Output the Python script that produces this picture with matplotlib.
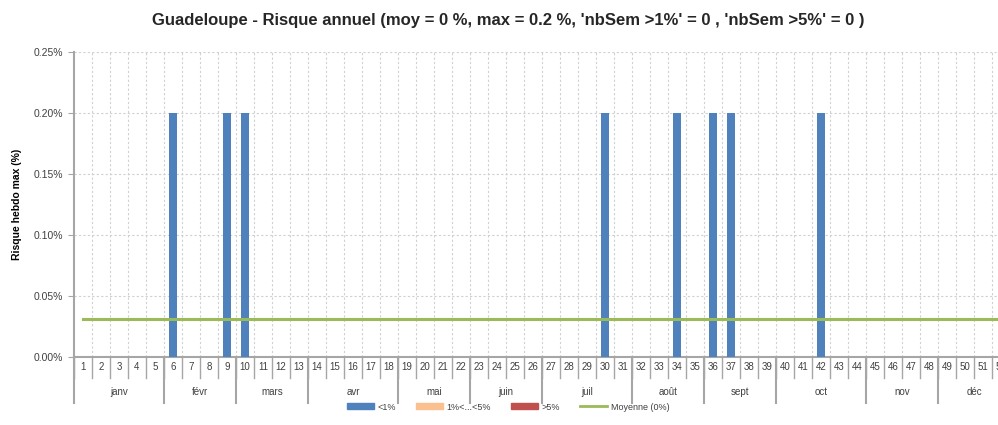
import numpy as np
import matplotlib
matplotlib.use('Agg')
import matplotlib.pyplot as plt
import matplotlib.transforms as mtrans
from matplotlib.patches import Patch
from matplotlib.lines import Line2D

plt.rcParams['font.family'] = ['Liberation Sans Narrow', 'Liberation Sans', 'DejaVu Sans']

# ── données ───────────────────────────────
weeks = np.arange(1, 53)
risk_weeks = [6, 9, 10, 30, 34, 36, 37, 42]     # semaines avec un risque > 0
risk_vals = [0.2, 0.2, 0.2, 0.2, 0.2, 0.2, 0.2, 0.2]
months = ['janv', 'févr', 'mars', 'avr', 'mai', 'juin',
          'juil', 'août', 'sept', 'oct', 'nov', 'déc']
month_nweeks = [5, 4, 4, 5, 4, 4, 5, 4, 4, 5, 4, 4]

risk = np.zeros(len(weeks))
for w, v in zip(risk_weeks, risk_vals):
    risk[w-1] = v
moy = risk.mean()

c_low, c_mid, c_high, c_moy = '#4F81BD', '#FAC090', '#C0504D', '#9BBB59'
grey = '#A6A6A6'
txt = '#404040'

# ── figure ────────────────────────────────
fig = plt.figure(figsize=(9.98, 4.25), dpi=100)
ax = fig.add_axes([74/998, 68/425, 936/998, 305/425])

low = np.where(risk < 1, risk, 0)
mid = np.where((risk >= 1) & (risk < 5), risk, 0)
high = np.where(risk >= 5, risk, 0)
ax.bar(weeks, low, width=0.4, color=c_low, zorder=3)
ax.bar(weeks, mid, width=0.4, color=c_mid, zorder=3)
ax.bar(weeks, high, width=0.4, color=c_high, zorder=3)
ax.plot(weeks, np.full(len(weeks), moy), color=c_moy, lw=2.2, zorder=4)

ax.set_xlim(0.5, 52.5)
ax.set_ylim(0, 0.25)
ax.set_yticks(np.arange(0, 0.26, 0.05))
ax.set_yticklabels([f'{v:.2f}%' for v in np.arange(0, 0.26, 0.05)],
                   fontsize=7.5, color=txt)
ax.tick_params(axis='y', length=4, color=grey, pad=4)

# grille : verticales entre semaines, horizontales tous les 0.05
for b in np.arange(1.5, 52.5, 1):
    ax.axvline(b, color='#D0D0D0', lw=0.8, ls=(0, (2, 2)), zorder=1)
ax.grid(axis='y', color='#D0D0D0', lw=0.8, ls=(0, (2, 2)), zorder=1)

for s in ['top', 'right']:
    ax.spines[s].set_visible(False)
for s in ['left', 'bottom']:
    ax.spines[s].set_color(grey)
    ax.spines[s].set_linewidth(1.5)

# axe x à deux niveaux : semaines puis mois
ax.set_xticks([])
tr = mtrans.blended_transform_factory(ax.transData, ax.transAxes)
h = 305.0
for w in weeks:
    ax.text(w, -10/h, str(w), transform=tr, ha='center', va='center',
            fontsize=7, color=txt)
for b in np.arange(0.5, 53.5, 1):
    ax.plot([b, b], [0, -21/h], transform=tr, color=grey, lw=1.0,
            clip_on=False)
start = 0.5
ax.plot([start, start], [0, -46/h], transform=tr, color=grey, lw=1.5,
        clip_on=False)
for m, n in zip(months, month_nweeks):
    ax.text(start + n/2, -35/h, m, transform=tr, ha='center', va='center',
            fontsize=7, color=txt)
    start += n
    ax.plot([start, start], [0, -46/h], transform=tr, color=grey, lw=1.5,
            clip_on=False)

ax.set_ylabel('Risque hebdo max (%)', fontsize=7.5, fontweight='bold',
              color='black', labelpad=8)

fig.text(508/998, 1 - 20/425,
         "Guadeloupe - Risque annuel (moy = 0 %, max = 0.2 %, "
         "'nbSem >1%' = 0 , 'nbSem >5%' = 0 )",
         ha='center', va='center', fontsize=12, fontweight='bold',
         color='#262626')

handles = [Patch(color=c_low, label='<1%'),
           Patch(color=c_mid, label='1%<...<5%'),
           Patch(color=c_high, label='>5%'),
           Line2D([], [], color=c_moy, lw=2, label='Moyenne (0%)')]
leg = fig.legend(handles=handles, loc='center', ncol=4, frameon=False,
                 bbox_to_anchor=(508/998, 1 - 407/425), fontsize=6.5,
                 handlelength=3.0, handleheight=0.6, columnspacing=2.2,
                 handletextpad=0.4)
for t in leg.get_texts():
    t.set_color(txt)

fig.savefig('out.png', dpi=100)
